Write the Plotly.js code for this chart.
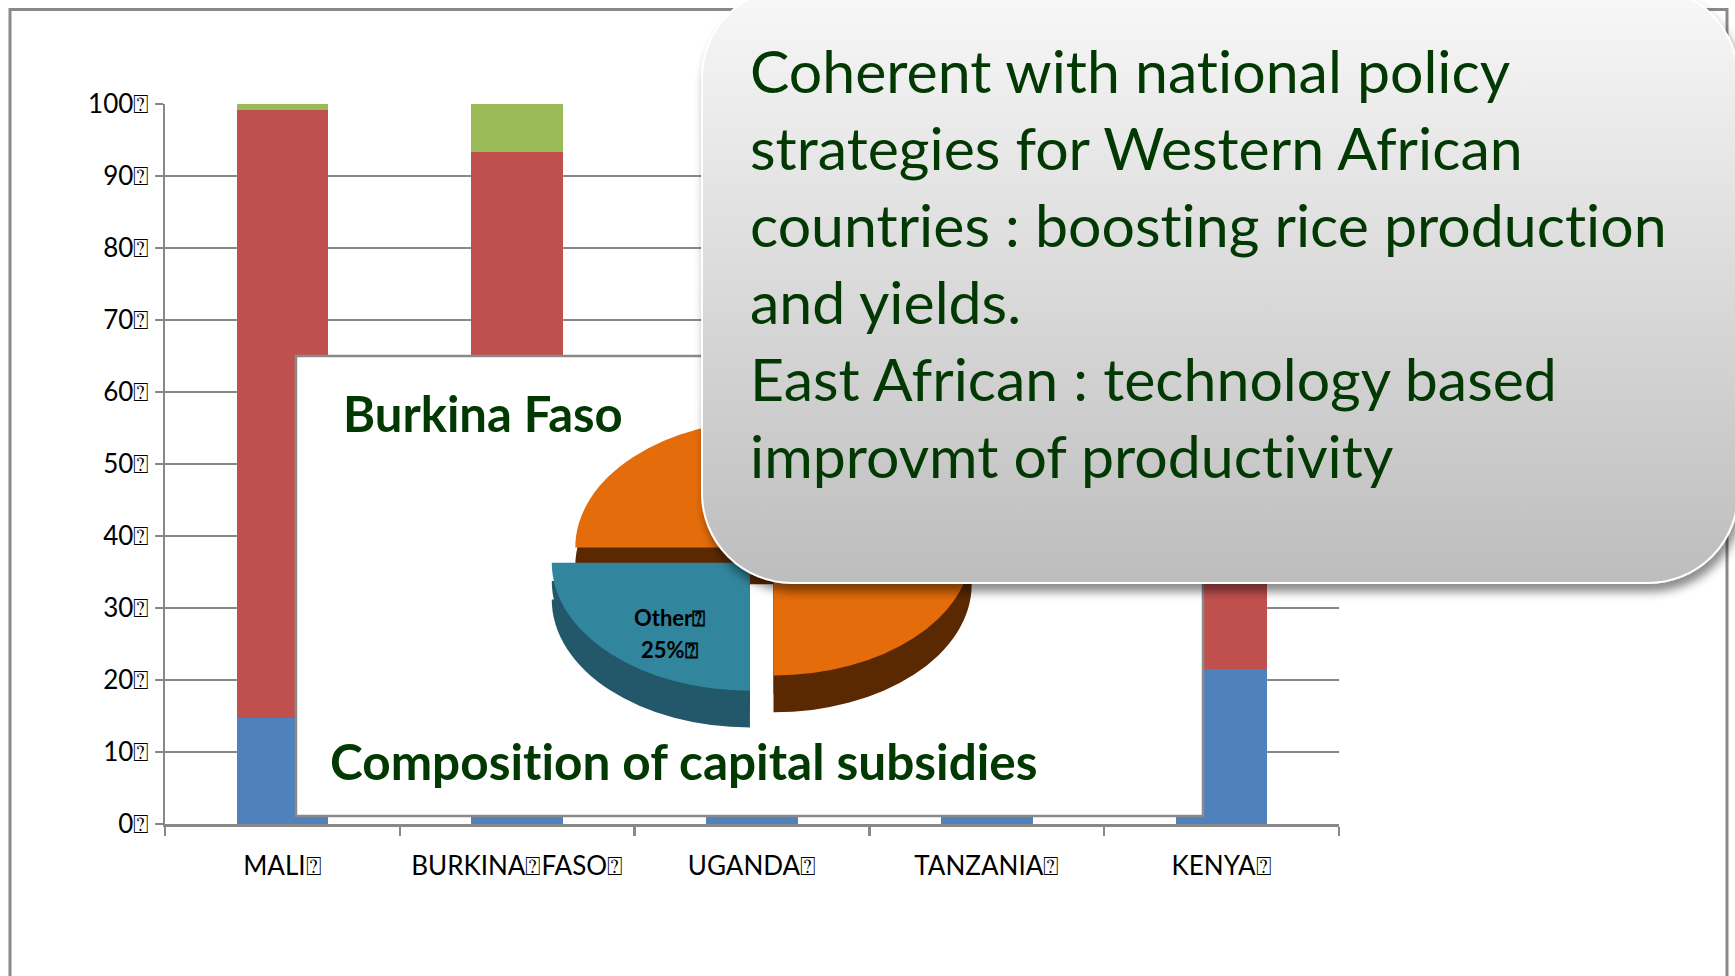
<!DOCTYPE html>
<html><head><meta charset="utf-8">
<script src="https://cdn.plot.ly/plotly-3.0.1.min.js"></script>
<style>
html,body{margin:0;padding:0;background:#fff;}
#wrap{position:relative;width:1735px;height:976px;overflow:hidden;}
.layer{position:absolute;left:0;top:0;width:1735px;height:976px;}
#pie{position:absolute;left:541.5px;top:315.5px;width:463px;height:520px;transform:scaleY(0.646);transform-origin:50% 231.5px;}
text{font-variant-ligatures:none;font-feature-settings:"liga" 0, "clig" 0;}
</style></head><body>
<div id="wrap">
  <div id="bars" class="layer"></div>
  <div id="pie"></div>
  <div id="callout" class="layer"></div>
</div>
<script>
// ---------------- data ----------------
const categories = ['MALI\u2370', 'BURKINA\u2370FASO\u2370', 'UGANDA\u2370', 'TANZANIA\u2370', 'KENYA\u2370'];
const seriesBlue = [14.7, 12.0, 40.0, 30.0, 21.5];
const seriesRed = [84.5, 81.4, 55.0, 65.0, 74.0];
const seriesGreen = [0.8, 6.6, 5.0, 5.0, 4.5];
const yTickValues = [0, 10, 20, 30, 40, 50, 60, 70, 80, 90, 100];
const yTickLabels = ['0\u2370', '10\u2370', '20\u2370', '30\u2370', '40\u2370', '50\u2370', '60\u2370', '70\u2370', '80\u2370', '90\u2370', '100\u2370'];
const pieLabels = ['Other', 'Investment'];
const pieValues = [25, 75];
const insetTitle = 'Burkina Faso';
const insetCaption = 'Composition of capital subsidies';
const calloutLines = [
  'Coherent with national policy',
  'strategies for Western African',
  'countries : boosting rice production',
  'and yields.',
  'East African : technology based',
  'improvmt of productivity'
];

// ---------------- helpers ----------------
const W = 1735, H = 976;
const px = x => x / W;
const py = y => 1 - y / H;
const gray = '#888888';
const green = '#023802';
const cfg = {staticPlot: true, displayModeBar: false};

// ---------------- bar chart ----------------
const tickFont = {family: 'Lato, sans-serif', size: 26, color: '#000000'};
const barTraces = [
  {type: 'bar', name: 'Series 1', x: categories, y: seriesBlue, marker: {color: '#4F81BD', line: {width: 0}}},
  {type: 'bar', name: 'Series 2', x: categories, y: seriesRed, marker: {color: '#C0504D', line: {width: 0}}},
  {type: 'bar', name: 'Series 3', x: categories, y: seriesGreen, marker: {color: '#9BBB59', line: {width: 0}}}
];
const barLayout = {
  width: W, height: H,
  margin: {l: 0, r: 0, t: 0, b: 0},
  paper_bgcolor: '#ffffff', plot_bgcolor: '#ffffff',
  showlegend: false, barmode: 'stack', bargap: 0.61,
  xaxis: {
    domain: [px(165), px(1339)], type: 'category',
    categoryorder: 'array', categoryarray: categories,
    tickson: 'boundaries', ticks: 'outside', ticklen: 9, tickwidth: 2.5, tickcolor: gray,
    showline: true, linecolor: gray, linewidth: 2.5, ticklabelstandoff: 17,
    showgrid: false, zeroline: false, tickfont: tickFont, fixedrange: true
  },
  yaxis: {
    domain: [1 - 824 / H, 1 - 104 / H], range: [0, 100],
    tickmode: 'array', tickvals: yTickValues, ticktext: yTickLabels,
    ticks: 'outside', ticklen: 8, tickwidth: 2.5, tickcolor: gray,
    showline: true, linecolor: gray, linewidth: 2.5,
    showgrid: true, gridcolor: gray, gridwidth: 2.5,
    zeroline: false, tickfont: tickFont, fixedrange: true
  },
  shapes: [
    {type: 'rect', xref: 'paper', yref: 'paper', x0: px(10), x1: px(1727), y0: py(1010), y1: py(9.5),
     line: {color: '#898989', width: 3}, fillcolor: 'rgba(0,0,0,0)', layer: 'below'},
    {type: 'rect', xref: 'paper', yref: 'paper', x0: px(296), x1: px(1203), y0: py(816), y1: py(356),
     line: {color: '#8a8a8a', width: 2.5}, fillcolor: '#ffffff', layer: 'above'}
  ],
  annotations: [
    {xref: 'paper', yref: 'paper', x: px(341), y: py(413), xanchor: 'left', yanchor: 'middle', showarrow: false,
     text: insetTitle, font: {family: 'Lato, sans-serif', size: 49, weight: 700, color: green}},
    {xref: 'paper', yref: 'paper', x: px(328), y: py(761), xanchor: 'left', yanchor: 'middle', showarrow: false,
     text: insetCaption, font: {family: 'Lato, sans-serif', size: 49.5, weight: 700, color: green}}
  ]
};
Plotly.newPlot('bars', barTraces, barLayout, cfg);

// ---------------- 3D-looking pie ----------------
const pieW = 463, pieH = 520;
const pieBase = {
  type: 'pie', labels: pieLabels, values: pieValues, sort: false,
  direction: 'counterclockwise', rotation: 180, pull: [0.168, 0],
  textinfo: 'none', textposition: 'none', hoverinfo: 'skip', showlegend: false
};
const darkColors = ['#22586A', '#5A2902'];
const topColors = ['#31859C', '#E46C0A'];
const pieTraces = [
  Object.assign({}, pieBase, {domain: {x: [0, 1], y: [0, 463 / pieH]}, marker: {colors: darkColors, line: {width: 0}}}),
  Object.assign({}, pieBase, {domain: {x: [0, 1], y: [28.5 / pieH, 491.5 / pieH]}, marker: {colors: darkColors, line: {width: 0}}}),
  Object.assign({}, pieBase, {domain: {x: [0, 1], y: [57 / pieH, 1]}, marker: {colors: topColors, line: {width: 0}}})
];
Plotly.newPlot('pie', pieTraces, {
  width: pieW, height: pieH, margin: {l: 0, r: 0, t: 0, b: 0},
  paper_bgcolor: 'rgba(0,0,0,0)', plot_bgcolor: 'rgba(0,0,0,0)', showlegend: false
}, cfg);

// ---------------- callout ----------------
const cw = 1065, ch = 620;
const calloutSvg =
  '<svg xmlns="http://www.w3.org/2000/svg" width="' + cw + '" height="' + ch + '" viewBox="0 0 ' + cw + ' ' + ch + '">' +
  '<defs><linearGradient id="g" x1="0" y1="0" x2="0" y2="1">' +
  '<stop offset="0" stop-color="#f8f8f8"/><stop offset="0.5" stop-color="#dadada"/><stop offset="1" stop-color="#bdbdbd"/>' +
  '</linearGradient>' +
  '<filter id="s" x="-5%" y="-5%" width="115%" height="125%"><feDropShadow dx="3" dy="8" stdDeviation="5" flood-color="#000" flood-opacity="0.45"/></filter>' +
  '</defs>' +
  '<rect x="22" y="-12" width="1036" height="595" rx="90" ry="90" fill="url(#g)" stroke="#ffffff" stroke-width="2" filter="url(#s)"/>' +
  '</svg>';
const calloutSrc = 'data:image/svg+xml;charset=utf-8,' + encodeURIComponent(calloutSvg);

const calloutAnn = calloutLines.map((t, i) => ({
  xref: 'paper', yref: 'paper', x: px(748), y: py(70 + 77 * i), xanchor: 'left', yanchor: 'middle',
  showarrow: false, text: t, font: {family: 'Lato, sans-serif', size: 59, color: green}
}));
calloutAnn.push(
  {xref: 'paper', yref: 'paper', x: px(669), y: py(617), xanchor: 'center', yanchor: 'middle', showarrow: false,
   text: pieLabels[0] + '\u2370', font: {family: 'Lato, sans-serif', size: 22, weight: 700, color: '#000000'}},
  {xref: 'paper', yref: 'paper', x: px(669), y: py(649), xanchor: 'center', yanchor: 'middle', showarrow: false,
   text: pieValues[0] + '%\u2370', font: {family: 'Lato, sans-serif', size: 22, weight: 700, color: '#000000'}}
);

Plotly.newPlot('callout', [], {
  width: W, height: H, margin: {l: 0, r: 0, t: 0, b: 0},
  paper_bgcolor: 'rgba(0,0,0,0)', plot_bgcolor: 'rgba(0,0,0,0)',
  xaxis: {visible: false}, yaxis: {visible: false}, showlegend: false,
  images: [{source: calloutSrc, xref: 'paper', yref: 'paper', x: px(680), y: 1, sizex: cw / W, sizey: ch / H,
            xanchor: 'left', yanchor: 'top', sizing: 'stretch', layer: 'above'}],
  annotations: calloutAnn
}, cfg);
</script>
</body></html>
